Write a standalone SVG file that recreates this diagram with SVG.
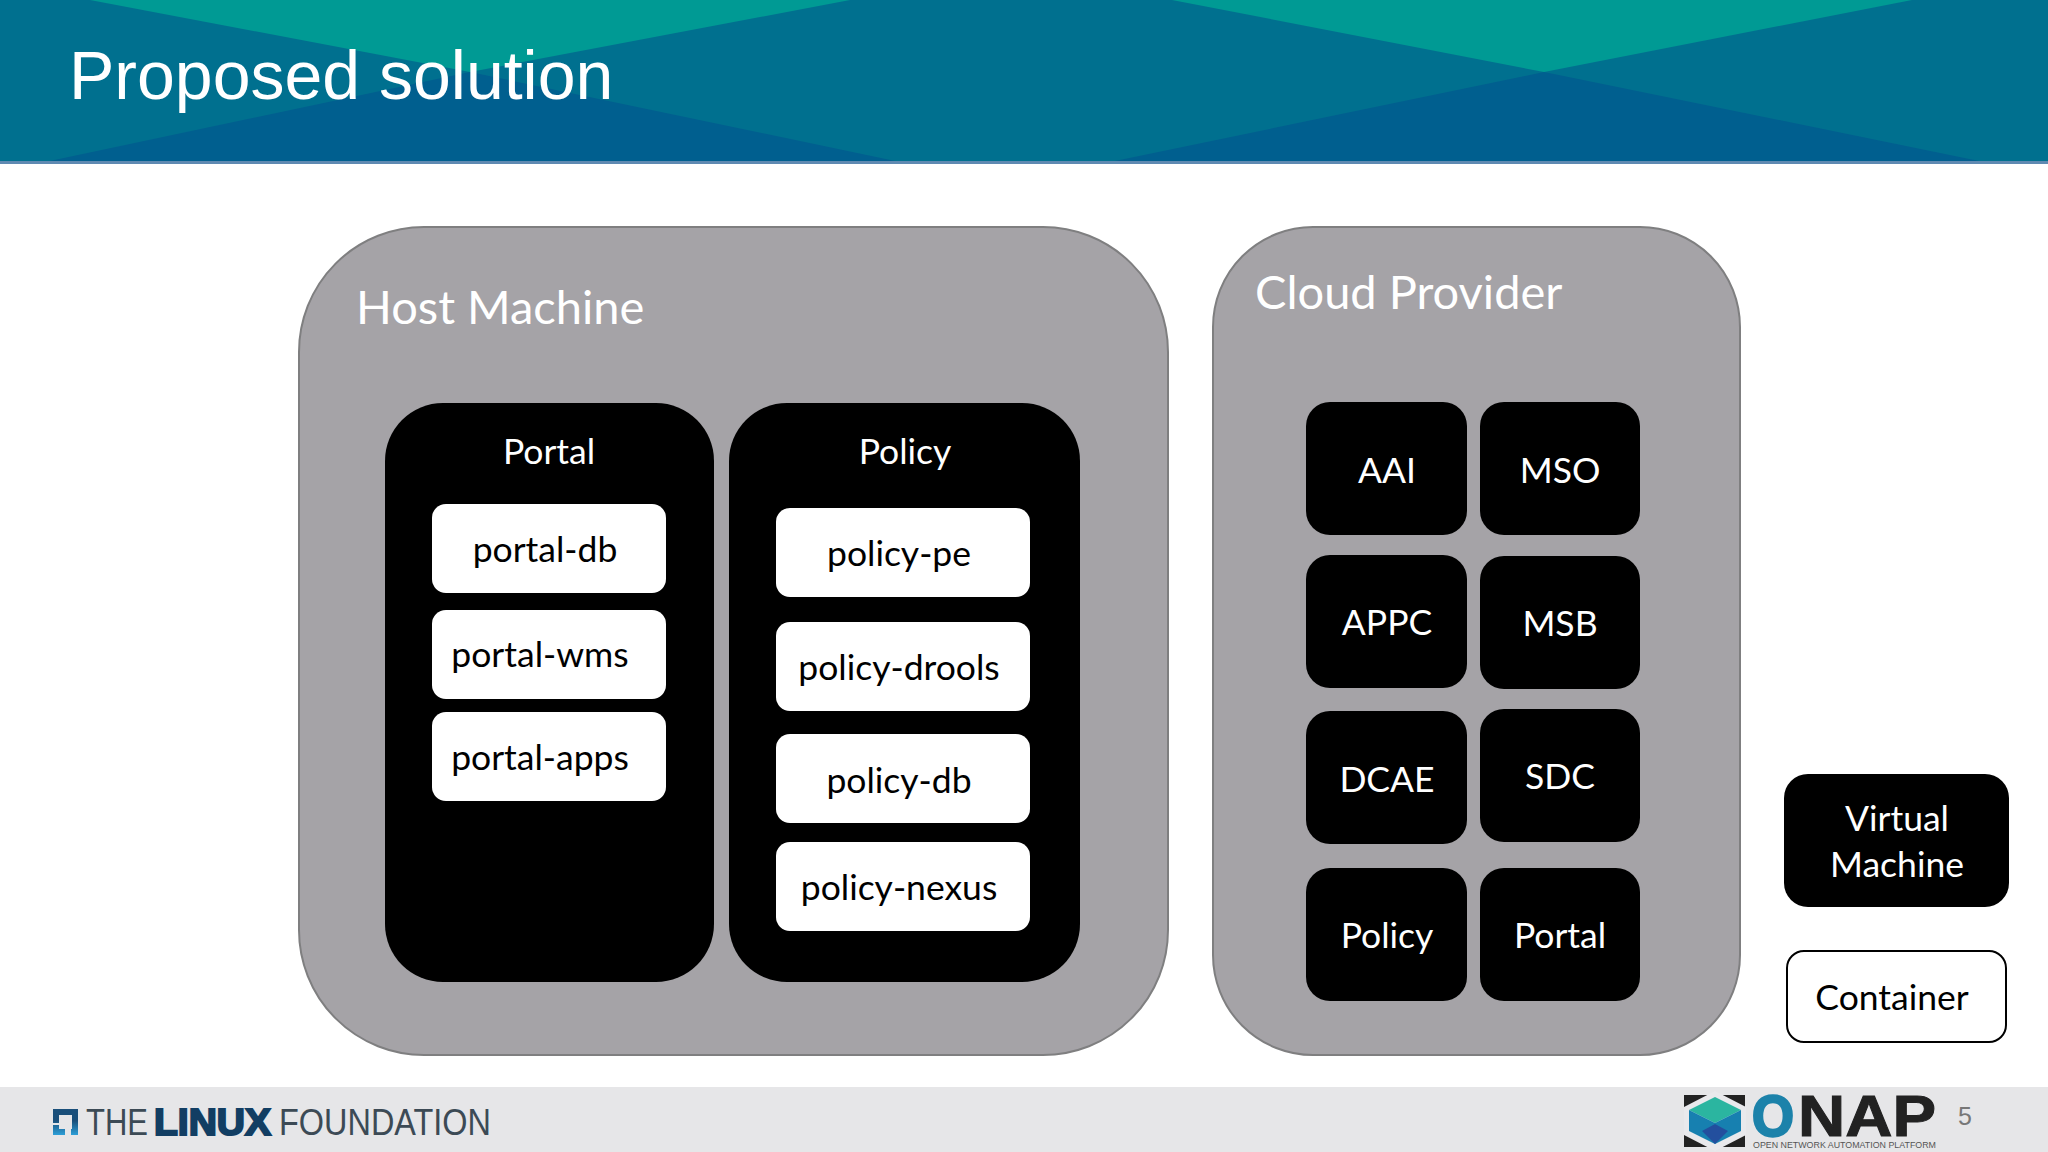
<svg xmlns="http://www.w3.org/2000/svg" width="2048" height="1152" viewBox="0 0 2048 1152">
<defs><linearGradient id="lf" x1="0" y1="0" x2="0" y2="1"><stop offset="0.45" stop-color="#1a4f7a"/><stop offset="1" stop-color="#2d9fd8"/></linearGradient></defs>
<style>
text{font-family:"Lato","Carlito","Open Sans",sans-serif}
.t{text-anchor:middle;font-size:35.5px}
.h{font-size:47px}
.a{font-family:"Liberation Sans",sans-serif}
.w{fill:#fff}.k{fill:#000}
.g{fill:#a5a3a7;stroke:#7f7f80;stroke-width:2}
.b{fill:#000}
.c{fill:#fff}
</style>
<rect width="2048" height="1152" fill="#fff"/>
<g id="header">
<rect width="2048" height="162" fill="#00708f"/>
<polygon points="90,0 850,0 470,72" fill="#009a94"/>
<polygon points="1172,0 1912,0 1544,72" fill="#009a94"/>
<polygon points="45,162 470,72 900,162" fill="#005f8f"/>
<polygon points="1110,162 1544,72 1984,162" fill="#005f8f"/>
<rect y="161" width="2048" height="3" fill="#5f8ab2"/>
<text x="69" y="99" font-size="68" fill="#fff" class="a">Proposed solution</text>
</g>
<g id="footer">
<rect y="1087" width="2048" height="65" fill="#e6e6e8"/>
<path d="M53 1109h25v26h-7v-6h1v-14h-13v8h-6zM53 1125h6v4h6v6h-12z" fill="url(#lf)"/>
<text x="86" y="1135" font-size="36" fill="#3c4a55" textLength="62" lengthAdjust="spacingAndGlyphs" class="a">THE</text>
<text x="154" y="1135" font-size="36" font-weight="700" fill="#123e63" stroke="#123e63" stroke-width="2" textLength="117" lengthAdjust="spacingAndGlyphs" class="a">LINUX</text>
<text x="279" y="1135" font-size="36" fill="#3c4a55" textLength="212" lengthAdjust="spacingAndGlyphs" class="a">FOUNDATION</text>
<g id="onap-mark">
<rect x="1684" y="1095" width="61" height="52" fill="#222"/>
<polygon points="1715,1091 1746,1107 1746,1135 1715,1151 1684,1135 1684,1107" fill="#e9e9ec"/>
<polygon points="1715,1097 1741,1110 1715,1123 1689,1110" fill="#2bb5a0"/>
<polygon points="1689,1110 1715,1123 1715,1144 1689,1131" fill="#1780b0"/>
<polygon points="1741,1110 1715,1123 1715,1144 1741,1131" fill="#1780b0"/>
<polygon points="1702,1131 1715,1124 1728,1131 1715,1144" fill="#234f9e"/>
</g>
<text x="1752" y="1136" font-size="58" font-weight="700" fill="#1c82aa" stroke="#1c82aa" stroke-width="2.5" textLength="42" lengthAdjust="spacingAndGlyphs" class="a">O</text>
<text x="1798" y="1136" font-size="58" font-weight="700" fill="#222" stroke="#222" stroke-width="1" textLength="138" lengthAdjust="spacingAndGlyphs" class="a">NAP</text>
<text x="1753" y="1148" font-size="9" fill="#555" textLength="183" lengthAdjust="spacingAndGlyphs" class="a">OPEN NETWORK AUTOMATION PLATFORM</text>
<text x="1958" y="1125" font-size="25" fill="#777" class="a">5</text>
</g>
<g id="host"><rect class="g" x="299" y="227" width="869" height="828" rx="125"/><text x="356" y="324" class="h w">Host Machine</text></g>
<g id="cloud"><rect class="g" x="1213" y="227" width="527" height="828" rx="100"/><text x="1255" y="309" class="h w">Cloud Provider</text></g>
<g id="portal"><rect class="b" x="385" y="403" width="329" height="579" rx="58"/><text class="t w" x="549" y="464">Portal</text></g>
<g id="policy"><rect class="b" x="729" y="403" width="351" height="579" rx="58"/><text class="t w" x="905" y="464">Policy</text></g>
<g id="portal-db"><rect class="c" x="432" y="504" width="234" height="89" rx="14"/><text class="t k" x="545" y="562">portal-db</text></g>
<g id="portal-wms"><rect class="c" x="432" y="610" width="234" height="89" rx="14"/><text class="t k" x="540" y="667">portal-wms</text></g>
<g id="portal-apps"><rect class="c" x="432" y="712" width="234" height="89" rx="14"/><text class="t k" x="540" y="770">portal-apps</text></g>
<g id="policy-pe"><rect class="c" x="776" y="508" width="254" height="89" rx="14"/><text class="t k" x="899" y="566">policy-pe</text></g>
<g id="policy-drools"><rect class="c" x="776" y="622" width="254" height="89" rx="14"/><text class="t k" x="899" y="680">policy-drools</text></g>
<g id="policy-db"><rect class="c" x="776" y="734" width="254" height="89" rx="14"/><text class="t k" x="899" y="793">policy-db</text></g>
<g id="policy-nexus"><rect class="c" x="776" y="842" width="254" height="89" rx="14"/><text class="t k" x="899" y="900">policy-nexus</text></g>
<g id="aai"><rect class="b" x="1306" y="402" width="161" height="133" rx="24"/><text class="t w" x="1387" y="483">AAI</text></g>
<g id="mso"><rect class="b" x="1480" y="402" width="160" height="133" rx="24"/><text class="t w" x="1560" y="483">MSO</text></g>
<g id="appc"><rect class="b" x="1306" y="555" width="161" height="133" rx="24"/><text class="t w" x="1387" y="635">APPC</text></g>
<g id="msb"><rect class="b" x="1480" y="556" width="160" height="133" rx="24"/><text class="t w" x="1560" y="636">MSB</text></g>
<g id="dcae"><rect class="b" x="1306" y="711" width="161" height="133" rx="24"/><text class="t w" x="1387" y="792">DCAE</text></g>
<g id="sdc"><rect class="b" x="1480" y="709" width="160" height="133" rx="24"/><text class="t w" x="1560" y="789">SDC</text></g>
<g id="cloud-policy"><rect class="b" x="1306" y="868" width="161" height="133" rx="24"/><text class="t w" x="1387" y="948">Policy</text></g>
<g id="cloud-portal"><rect class="b" x="1480" y="868" width="160" height="133" rx="24"/><text class="t w" x="1560" y="948">Portal</text></g>
<g id="legend-vm"><rect class="b" x="1784" y="774" width="225" height="133" rx="24"/><text class="t w" x="1897" y="831">Virtual</text><text class="t w" x="1897" y="877">Machine</text></g>
<g id="legend-container"><rect x="1787" y="951" width="219" height="91" rx="17" fill="#fff" stroke="#000" stroke-width="2"/><text class="t k" x="1892" y="1010">Container</text></g>
<g id="connectors"/>
</svg>
